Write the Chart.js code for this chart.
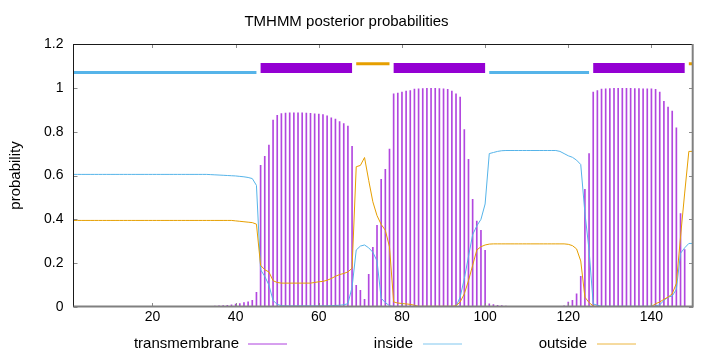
<!DOCTYPE html>
<html>
<head>
<meta charset="utf-8">
<script src="https://cdn.jsdelivr.net/npm/chart.js@4.4.1/dist/chart.umd.min.js"></script>
<style>
html,body{margin:0;padding:0;background:#fff;}
#wrap{width:720px;height:352px;position:relative;}
</style>
</head>
<body>
<div id="wrap"><canvas id="c" width="720" height="352"></canvas></div>
<script>
// ---- data (residue positions 1..150) ----
const transmembrane = [
0,0,0,0,0,0,0,0,0,0,0,0,0,0,0,0,0,0,0,0,0,0,0,0,0,0,0,0,0,0,0,0,0,
0.003,0.004,0.005,0.006,0.008,0.010,0.013,0.016,0.020,0.024,0.030,0.067,
0.646,0.687,0.739,0.853,0.875,0.882,0.885,0.886,0.886,0.886,0.886,0.885,0.884,0.881,0.880,0.878,0.872,0.863,0.857,0.846,0.837,0.825,0.733,
0.099,0.076,0.035,0.149,0.272,0.373,0.583,0.628,0.720,
0.973,0.976,0.981,0.985,0.988,0.994,0.996,0.997,0.998,0.998,0.998,0.997,0.996,0.993,0.985,0.973,0.958,0.809,0.674,0.491,0.392,0.350,0.259,
0.015,0.011,0.008,0.006,0.004,
0.002,0.001,0,0,0,0,0,0,0,0,0,0.001,0.002,
0.005,0.022,0.030,0.060,0.140,0.537,0.700,
0.981,0.988,0.994,0.996,0.997,0.998,0.998,0.998,0.998,0.998,0.997,0.997,0.996,0.996,0.995,0.993,0.981,0.938,0.912,0.894,0.818,0.426,0.262,
0,0
];
const inside = [
0.605,0.605,0.605,0.605,0.605,0.605,0.605,0.605,0.605,0.605,0.605,0.605,0.605,0.605,0.605,0.605,0.605,0.605,0.605,0.605,0.605,0.605,0.605,0.605,0.605,0.605,0.605,0.605,0.605,0.605,0.605,0.605,0.605,
0.604,0.603,0.602,0.601,0.600,0.599,0.598,0.596,0.594,0.591,0.586,0.555,
0.170,0.140,0.100,0.030,0.012,0.006,0.005,0.005,0.005,0.005,0.005,0.005,0.005,0.005,0.005,0.005,0.005,0.006,0.007,0.008,0.010,0.015,0.090,
0.260,0.278,0.283,0.270,0.250,0.210,0.040,0.020,0.006,
0.002,0.002,0.002,0.002,0.002,0.002,0.002,0.002,0.002,0.002,0.002,0.002,0.002,0.002,0.002,0.002,0.045,0.130,0.230,0.330,0.370,0.400,0.470,
0.700,0.705,0.710,0.713,0.714,0.714,0.714,0.714,0.714,0.714,0.714,0.714,0.714,0.714,0.714,0.714,0.714,0.710,0.700,0.690,0.683,0.670,0.650,0.430,0.260,
0.014,0.008,0.003,0.003,0.003,0.003,0.003,0.003,0.003,0.003,0.003,0.003,0.003,0.003,0.003,0.005,0.010,0.030,0.045,0.050,0.080,0.245,0.270,
0.290,0.290
];
const outside = [
0.395,0.395,0.395,0.395,0.395,0.395,0.395,0.395,0.395,0.395,0.395,0.395,0.395,0.395,0.395,0.395,0.395,0.395,0.395,0.395,0.395,0.395,0.395,0.395,0.395,0.395,0.395,0.395,0.395,0.395,0.395,0.395,0.395,0.395,0.395,0.395,0.395,0.395,0.395,
0.393,0.391,0.389,0.387,0.385,0.378,
0.190,0.170,0.160,0.120,0.112,0.109,0.109,0.109,0.109,0.109,0.109,0.109,0.109,0.112,0.115,0.117,0.122,0.130,0.140,0.148,0.153,0.160,0.177,
0.640,0.646,0.682,0.578,0.480,0.417,0.377,0.350,0.274,
0.023,0.018,0.016,0.014,0.012,0.008,0.003,0.003,0.003,0.003,0.003,0.003,0.003,0.003,0.003,0.006,0.023,0.060,0.120,0.190,0.260,0.275,0.283,
0.287,0.288,0.288,0.288,0.288,0.288,0.288,0.288,0.288,0.288,0.288,0.288,0.288,0.288,0.288,0.288,0.288,0.288,0.288,0.286,0.280,0.265,0.210,0.045,0.020,
0.005,0.002,0.002,0.002,0.002,0.002,0.002,0.002,0.002,0.002,0.002,0.002,0.002,0.002,0.002,0.015,0.023,0.035,0.045,0.060,0.108,0.320,0.520,
0.710,0.710
];
// predicted topology segments (top bars)
const segStart = [1, 46, 69, 78, 101, 126, 149];
const segEnd   = [45, 68, 77, 100, 125, 148, 150];
const segType  = ['inside','transmembrane','outside','transmembrane','inside','transmembrane','outside'];
const segLevel = {inside:1.07, transmembrane:1.09, outside:1.11};
const xTickValues = [20, 40, 60, 80, 100, 120, 140];
const seriesNames = ['transmembrane', 'inside', 'outside'];
const titleText = 'TMHMM posterior probabilities';
const yTitle = 'probability';

// ---- styles ----
const FONT = '"Liberation Sans", Arial, Helvetica, sans-serif';
const COL = {transmembrane:'#9400D3', inside:'#56B4E9', outside:'#E69F00'};
const SEGW = {transmembrane:10, inside:3, outside:3};

const toPts = arr => arr.map((v, i) => ({x: i + 1, y: v}));

const datasets = [
  {type:'bar', label:seriesNames[0], data:toPts(transmembrane), backgroundColor:'rgba(148,0,211,0.72)',
   borderWidth:0, barThickness:1, grouped:false, order:3},
  {type:'line', label:seriesNames[1], data:toPts(inside), borderColor:COL.inside, borderWidth:1,
   pointRadius:0, tension:0, fill:false, order:2},
  {type:'line', label:seriesNames[2], data:toPts(outside), borderColor:COL.outside, borderWidth:1,
   pointRadius:0, tension:0, fill:false, order:1}
];
segStart.forEach((s, i) => {
  const t = segType[i];
  datasets.push({type:'line', label:'seg'+i, data:[{x:s, y:segLevel[t]}, {x:segEnd[i], y:segLevel[t]}],
    borderColor:COL[t], borderWidth:SEGW[t], borderCapStyle:'butt', pointRadius:0, tension:0, fill:false, order:0});
});

const framePlugin = {
  id:'frame',
  afterDatasetsDraw(chart){
    const {ctx, chartArea:{left, right, top, bottom}, scales:{x, y}} = chart;
    ctx.save();
    const seg = (x1, y1, x2, y2) => { ctx.beginPath(); ctx.moveTo(x1, y1); ctx.lineTo(x2, y2); ctx.stroke(); };
    ctx.strokeStyle = '#8a8a8a'; ctx.lineWidth = 1;
    xTickValues.forEach(v => {
      const px = Math.round(x.getPixelForValue(v)) + 0.5;
      seg(px, bottom, px, bottom - 4);
      seg(px, top, px, top + 4);
    });
    y.ticks.forEach(t => {
      const py = Math.round(y.getPixelForValue(t.value)) + 0.5;
      seg(left, py, left + 4, py);
      seg(right, py, right - 4, py);
    });
    ctx.strokeStyle = '#1a1a1a'; ctx.lineWidth = 1;
    seg(left - 0.5, top + 0.5, right, top + 0.5);
    seg(left, top, left, bottom);
    ctx.strokeStyle = '#808080'; ctx.lineWidth = 2;
    seg(left, bottom - 0.5, right, bottom - 0.5);
    seg(right - 0.3, top, right - 0.3, bottom + 0.5);
    ctx.restore();
  },
  afterDraw(chart){
    const ctx = chart.ctx;
    ctx.save();
    ctx.font = '15px ' + FONT;
    ctx.textAlign = 'right';
    ctx.textBaseline = 'middle';
    ctx.fillStyle = '#000';
    const textRight = [239, 413, 587];
    const lineStart = [248, 423, 597];
    const cols = [COL.transmembrane, COL.inside, COL.outside];
    seriesNames.forEach((n, i) => {
      ctx.fillText(n, textRight[i], 344);
      ctx.strokeStyle = cols[i];
      ctx.globalAlpha = 0.75;
      ctx.lineWidth = 1;
      ctx.beginPath(); ctx.moveTo(lineStart[i], 344); ctx.lineTo(lineStart[i] + 39, 344); ctx.stroke();
      ctx.globalAlpha = 1;
    });
    ctx.restore();
  }
};

new Chart(document.getElementById('c'), {
  type:'bar',
  data:{datasets},
  options:{
    responsive:false, animation:false, devicePixelRatio:1,
    layout:{padding:{left:0, right:27, top:0, bottom:0}},
    plugins:{
      legend:{display:false}, tooltip:{enabled:false},
      title:{display:true, text:titleText, color:'#000', font:{family:FONT, size:15, weight:'normal'}, padding:{top:13, bottom:13}}
    },
    scales:{
      x:{type:'linear', min:1, max:150, offset:false,
         grid:{display:false, drawTicks:false}, border:{display:false},
         ticks:{color:'#000', font:{family:FONT, size:14}, padding:2, maxRotation:0, autoSkip:false},
         afterBuildTicks: s => { s.ticks = xTickValues.map(v => ({value:v})); },
         afterFit: s => { s.height = 45; }},
      y:{type:'linear', min:0, max:1.2,
         grid:{display:false, drawTicks:false}, border:{display:false},
         ticks:{stepSize:0.2, color:'#000', font:{family:FONT, size:14}, padding:10,
                callback: v => String(Math.round(v * 10) / 10)},
         title:{display:true, text:yTitle, color:'#000', font:{family:FONT, size:15}, padding:{top:7, bottom:0}},
         afterFit: s => { s.width = 73.5; }}
    }
  },
  plugins:[framePlugin]
});
</script>
</body>
</html>
